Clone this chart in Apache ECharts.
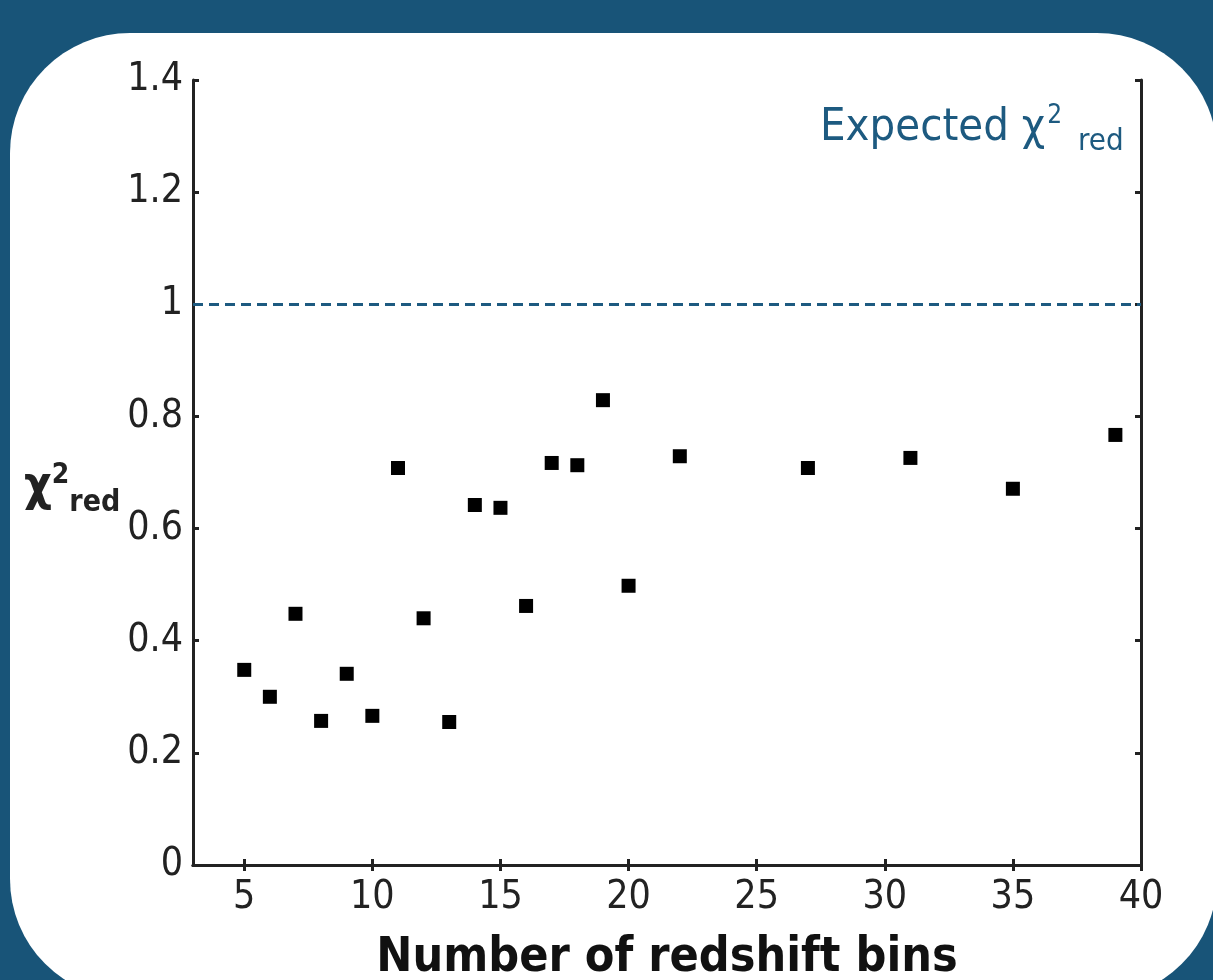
<!DOCTYPE html>
<html><head><meta charset="utf-8">
<script src="https://cdn.jsdelivr.net/npm/echarts@6/dist/echarts.min.js"></script>
<style>html,body{margin:0;padding:0;background:#185478;}#c{width:1213px;height:980px;}</style>
</head><body><div id="c"></div>
<script>
const bins = [5,6,7,8,9,10,11,12,13,14,15,16,17,18,19,20,22,27,31,35,39];
const chi2red = [0.348,0.300,0.448,0.257,0.341,0.266,0.708,0.440,0.255,0.642,0.637,0.462,0.717,0.713,0.829,0.498,0.729,0.708,0.726,0.671,0.767];
const expected = 1;
const xTicks = [5,10,15,20,25,30,35,40];
const yTicks = [0,0.2,0.4,0.6,0.8,1,1.2,1.4];

const FONT = "'DejaVu Sans Condensed','DejaVu Sans',sans-serif";
const chart = echarts.init(document.getElementById('c'));
const axisLine = {show:true, lineStyle:{color:'#222', width:3}};
const tickStyle = {show:true, inside:true, length:6, lineStyle:{color:'#222', width:3}};
chart.setOption({
  backgroundColor:'#185478',
  animation:false,
  graphic:[
    {type:'rect', z:-10, shape:{x:10, y:33, width:1207, height:966, r:120}, style:{fill:'#fff'}},
    {type:'text', left:820, top:103, z:10, style:{
      rich:{a:{fontFamily:FONT, fontSize:45, fill:'#1d5a80'}, s:{fontFamily:FONT, fontSize:26, fill:'#1d5a80', padding:[0,16,24,2]}, b:{fontFamily:FONT, fontSize:31, fill:'#1d5a80', padding:[28,0,0,0]}},
      text:'{a|Expected χ}{s|2}{b|red}'}},
    {type:'text', left:24, top:462, z:10, style:{
      rich:{a:{fontFamily:FONT, fontSize:48, fontWeight:'bold', fill:'#222'}, s:{fontFamily:FONT, fontSize:28, fontWeight:'bold', fill:'#222', padding:[0,0,24,0]}, b:{fontFamily:FONT, fontSize:30, fontWeight:'bold', fill:'#222', padding:[30,0,0,0]}},
      text:'{a|χ}{s|2}{b|red}'}}
  ],
  grid:{left:193, right:72, top:80, bottom:115, containLabel:false, outerBoundsMode:'none'},
  xAxis:[
    {type:'value', min:3, max:40, position:'bottom',
     axisLine:axisLine, axisTick:Object.assign({customValues:xTicks}, tickStyle), splitLine:{show:false},
     axisLabel:{customValues:xTicks, fontFamily:FONT, fontSize:39, color:'#222', margin:13},
     name:'Number of redshift bins', nameLocation:'middle', nameGap:70,
     nameTextStyle:{fontFamily:FONT, fontSize:48, fontWeight:'bold', color:'#111'}},
    {type:'value', min:3, max:40, position:'top',
     axisLine:axisLine, axisTick:Object.assign({customValues:xTicks}, tickStyle),
     axisLabel:{show:false, customValues:xTicks}, splitLine:{show:false}}
  ],
  yAxis:[
    {type:'value', min:0, max:1.4, interval:0.2, position:'left',
     axisLine:axisLine, axisTick:tickStyle, splitLine:{show:false},
     axisLabel:{fontFamily:FONT, fontSize:39, color:'#222', margin:10,
       formatter:v=>{const r=Math.round(v*10)/10; return r===0?'0':(r===1?'1':String(r));}}},
    {type:'value', min:0, max:1.4, interval:0.2, position:'right',
     axisLine:axisLine, axisTick:tickStyle, axisLabel:{show:false}, splitLine:{show:false}}
  ],
  series:[{
    type:'scatter', symbol:'rect', symbolSize:14, itemStyle:{color:'#000', opacity:1},
    data: bins.map((b,i)=>[b, chi2red[i]]),
    markLine:{silent:true, symbol:'none', label:{show:false},
      lineStyle:{color:'#1d5a80', type:[10,6], width:3},
      data:[{yAxis:expected}]}
  }]
});
</script></body></html>
